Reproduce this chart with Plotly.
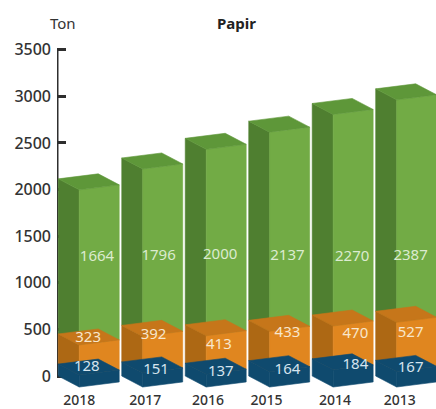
import plotly.graph_objects as go

years = ["2018", "2017", "2016", "2015", "2014", "2013"]
navy_vals = [128, 151, 137, 164, 184, 167]
orange_vals = [323, 392, 413, 433, 470, 527]
green_vals = [1664, 1796, 2000, 2137, 2270, 2387]
y_ticks = [0, 500, 1000, 1500, 2000, 2500, 3000, 3500]

# geometry of the pseudo-3D box, in axis units
BAR_START = 0.02
RIGHT = (0.63, 54)
DEPTH = (0.33, -118)

# label placement (axis units)
green_lx = [0.63, 0.60, 0.57, 0.63, 0.65, 0.57]
green_ly = [1277, 1285, 1300, 1290, 1277, 1285]
orange_lx = [0.49, 0.52, 0.55, 0.63, 0.70, 0.57]
orange_ly = [408, 440, 333, 461, 451, 461]
navy_lx = [0.47, 0.56, 0.58, 0.63, 0.70, 0.57]
navy_ly = [97, 64, 43, 64, 118, 86]
year_offset = [0.35, 0.39, 0.38, 0.30, 0.38, 0.40]

GREEN = ("#4f7f30", "#72ab45", "#5e9739")
ORANGE = ("#ad6814", "#e0861f", "#c6761a")
NAVY = ("#0f4a6e", "#0f4a6e", "#0f4a6e")

fig = go.Figure()


def poly(pts, color):
    fig.add_trace(go.Scatter(
        x=[p[0] for p in pts] + [pts[0][0]],
        y=[p[1] for p in pts] + [pts[0][1]],
        mode="lines", fill="toself", fillcolor=color,
        line=dict(width=0.6, color=color), hoverinfo="skip", showlegend=False,
    ))


def box(i, base, top, colors):
    x0 = i + BAR_START
    nx, rx, bx = x0 + DEPTH[0], x0 + DEPTH[0] + RIGHT[0], x0 + RIGHT[0]
    n_d, r_d, b_d = DEPTH[1], DEPTH[1] + RIGHT[1], RIGHT[1]
    poly([(x0, base), (x0, top), (nx, top + n_d), (nx, base + n_d)], colors[0])
    poly([(nx, base + n_d), (nx, top + n_d), (rx, top + r_d), (rx, base + r_d)], colors[1])
    poly([(x0, top), (bx, top + b_d), (rx, top + r_d), (nx, top + n_d)], colors[2])


fig.add_trace(go.Scatter(x=[0, 0], y=[0, 3500], mode="lines",
                         line=dict(color="#2e2e2e", width=3),
                         hoverinfo="skip", showlegend=False))

for i in range(len(years)):
    a = navy_vals[i]
    b = a + orange_vals[i]
    c = b + green_vals[i]
    box(i, b, c, GREEN)
    box(i, a, b, ORANGE)
    box(i, 0, a, NAVY)


def labels(vals, lx, ly, color):
    fig.add_trace(go.Scatter(
        x=[i + d for i, d in enumerate(lx)], y=ly,
        text=[str(v) for v in vals], mode="text",
        textfont=dict(family="Noto Sans", size=15, color=color),
        hoverinfo="skip", showlegend=False,
    ))


labels(green_vals, green_lx, green_ly, "#dcebd0")
labels(orange_vals, orange_lx, orange_ly, "#f8e6cc")
labels(navy_vals, navy_lx, navy_ly, "#d5e4ee")

fig.update_layout(
    width=436, height=409,
    margin=dict(l=57, r=0, t=0, b=19, autoexpand=False),
    paper_bgcolor="white", plot_bgcolor="white",
    showlegend=False,
    font=dict(family="Noto Sans", color="#333333"),
    xaxis=dict(
        range=[0, 5.97], showgrid=False, zeroline=False, showline=False, automargin=False,
        tickmode="array", tickvals=[i + d for i, d in enumerate(year_offset)],
        ticktext=years, ticks="", ticklen=0,
        tickfont=dict(family="Noto Sans", size=14, color="#333333", weight=500),
    ),
    yaxis=dict(
        range=[-150, 4034], showgrid=False, zeroline=False, showline=False, automargin=False,
        tickmode="array", tickvals=y_ticks, ticktext=[str(v) for v in y_ticks],
        ticks="inside", ticklen=9, tickwidth=2.5, tickcolor="#2e2e2e",
        layer="below traces", ticklabelstandoff=5,
        tickfont=dict(family="Noto Sans", size=16, color="#333333", weight=500),
    ),
    annotations=[
        dict(text="Ton", xref="paper", yref="paper", x=(63 - 57) / 379, y=(390 - 23) / 390,
             showarrow=False, xanchor="center", yanchor="middle",
             font=dict(family="Noto Sans", size=15, color="#333333")),
        dict(text="Papir", xref="paper", yref="paper", x=(236 - 57) / 379, y=(390 - 23) / 390,
             showarrow=False, xanchor="center", yanchor="middle",
             font=dict(family="Noto Sans", size=15, color="#222222", weight=700)),
    ],
)

fig.write_html("out.html", config=dict(displayModeBar=False),
               post_script="document.body.style.margin='0';document.documentElement.style.overflow='hidden';")
